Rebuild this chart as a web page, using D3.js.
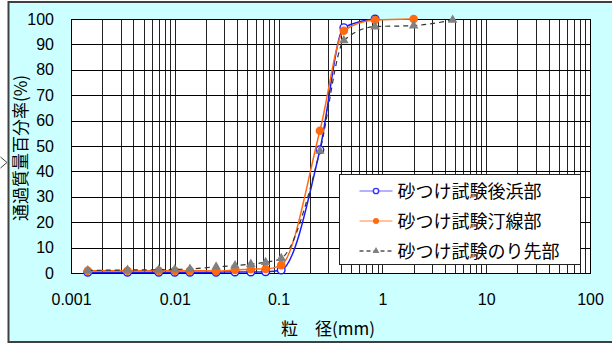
<!DOCTYPE html>
<html>
<head>
<meta charset="utf-8">
<script src="https://cdn.jsdelivr.net/npm/d3@7"></script>
<style>
  body { margin: 0; background: #fff; }
  svg text { font-family: "Liberation Sans", Arial, sans-serif; }
  .cjk { font-family: "Noto Sans CJK JP", "Noto Sans CJK SC", sans-serif; }
</style>
</head>
<body>
<div id="chart"></div>
<script>
// particle size (mm) and percent passing for each sample
var sizesBack = [0.00145, 0.0035, 0.007, 0.01, 0.014, 0.025, 0.038, 0.054, 0.075, 0.106, 0.25, 0.425, 0.85];
var passBack  = [0.3, 0.3, 0.3, 0.3, 0.3, 0.3, 0.4, 0.4, 0.5, 1.2, 48.5, 96.6, 100];

var sizesShore = [0.00145, 0.0035, 0.007, 0.01, 0.014, 0.025, 0.038, 0.054, 0.075, 0.106, 0.25, 0.425, 0.85, 2.0];
var passShore  = [0.9, 0.9, 0.9, 0.9, 0.9, 0.8, 1.2, 1.5, 1.6, 3.1, 56, 95.4, 99.6, 100];

var sizesToe = [0.00145, 0.0035, 0.007, 0.01, 0.014, 0.025, 0.038, 0.054, 0.075, 0.106, 0.25, 0.425, 0.85, 2.0, 4.75];
var passToe  = [1.0, 1.2, 1.3, 1.4, 1.6, 2.4, 2.9, 3.5, 4.2, 5.8, 48, 91.5, 97, 97.4, 99.6];

var seriesNames = ["砂つけ試験後浜部", "砂つけ試験汀線部", "砂つけ試験のり先部"];
var xTickValues = [0.001, 0.01, 0.1, 1, 10, 100];
var xTickLabels = ["0.001", "0.01", "0.1", "1", "10", "100"];
var yTickValues = [0, 10, 20, 30, 40, 50, 60, 70, 80, 90, 100];

var W = 612, H = 344;
var margin = {top: 19, right: 22, bottom: 71, left: 71};

var svg = d3.select("#chart").append("svg")
    .attr("width", W)
    .attr("height", H);

// outer frame
svg.append("rect")
    .attr("x", 8.5).attr("y", 2)
    .attr("width", W + 10).attr("height", 340)
    .attr("fill", "#ccffff")
    .attr("stroke", "#404040")
    .attr("stroke-width", 2);

// little selection arrow on the left edge
svg.append("path")
    .attr("d", "M0.5,157 L7,162.5 L0.5,168")
    .attr("fill", "none")
    .attr("stroke", "#404040")
    .attr("stroke-width", 1);

var x = d3.scaleLog().domain([0.001, 100]).range([margin.left, W - margin.right]);
var y = d3.scaleLinear().domain([0, 100]).range([H - margin.bottom, margin.top]);

// plot area
svg.append("rect")
    .attr("x", x(0.001)).attr("y", y(100))
    .attr("width", x(100) - x(0.001)).attr("height", y(0) - y(100))
    .attr("fill", "#fff");

var grid = svg.append("g").attr("shape-rendering", "crispEdges");

grid.selectAll("line.v")
    .data(x.ticks())
    .enter().append("line")
    .attr("class", "v")
    .attr("x1", function(d) { return Math.round(x(d)) + 0.5; })
    .attr("x2", function(d) { return Math.round(x(d)) + 0.5; })
    .attr("y1", y(100)).attr("y2", y(0))
    .attr("stroke", "#222")
    .attr("stroke-width", 1);

grid.selectAll("line.h")
    .data(yTickValues)
    .enter().append("line")
    .attr("class", "h")
    .attr("x1", x(0.001)).attr("x2", x(100))
    .attr("y1", function(d) { return Math.round(y(d)) + 0.5; })
    .attr("y2", function(d) { return Math.round(y(d)) + 0.5; })
    .attr("stroke", "#000")
    .attr("stroke-width", 1);

svg.append("rect")
    .attr("x", x(0.001) + 0.5).attr("y", y(100) + 0.5)
    .attr("width", x(100) - x(0.001)).attr("height", y(0) - y(100))
    .attr("fill", "none")
    .attr("stroke", "#000")
    .attr("shape-rendering", "crispEdges");

// axes (labels only)
var xAxis = svg.append("g")
    .attr("transform", "translate(0," + (y(0) + 18) + ")")
    .call(d3.axisBottom(x)
        .tickValues(xTickValues)
        .tickSize(0)
        .tickFormat(function(d, i) { return xTickLabels[i]; }));
xAxis.select(".domain").remove();
xAxis.selectAll("text")
    .attr("font-size", 16)
    .attr("fill", "#000")
    .attr("font-family", "'Liberation Sans', Arial, sans-serif");

var yAxis = svg.append("g")
    .attr("transform", "translate(" + (x(0.001) - 14) + ",0)")
    .call(d3.axisLeft(y).tickValues(yTickValues).tickSize(0));
yAxis.select(".domain").remove();
yAxis.selectAll("text")
    .attr("font-size", 16)
    .attr("fill", "#000")
    .attr("font-family", "'Liberation Sans', Arial, sans-serif");

// axis titles
svg.append("text")
    .attr("class", "cjk")
    .attr("transform", "translate(27,148) rotate(-90)")
    .attr("text-anchor", "middle")
    .attr("font-size", 17)
    .attr("fill", "#000")
    .text("通過質量百分率(%)");

svg.append("text")
    .attr("class", "cjk")
    .attr("x", 328).attr("y", 335)
    .attr("text-anchor", "middle")
    .attr("font-size", 17)
    .attr("fill", "#000")
    .text("粒　径(mm)");

// series
var series = [
    {sizes: sizesBack, pass: passBack, color: "#1a1aff", dash: null, marker: "circle"},
    {sizes: sizesShore, pass: passShore, color: "#ff6a10", dash: null, marker: "dot"},
    {sizes: sizesToe, pass: passToe, color: "#333", dash: "5,4", marker: "tri"}
];

var line = d3.line()
    .x(function(d) { return x(d[0]); })
    .y(function(d) { return y(d[1]); })
    .curve(d3.curveMonotoneX);

function drawMarker(g, s, px, py, scale) {
    if (s.marker === "circle") {
        g.append("circle").attr("cx", px).attr("cy", py).attr("r", 3.8 * scale)
            .attr("fill", "#fff").attr("stroke", s.color).attr("stroke-width", 1.4);
    } else if (s.marker === "dot") {
        g.append("circle").attr("cx", px).attr("cy", py).attr("r", 4.3 * scale)
            .attr("fill", "#ff6a10");
    } else {
        g.append("path")
            .attr("d", d3.symbol().type(d3.symbolTriangle).size(40 * scale * scale)())
            .attr("transform", "translate(" + px + "," + py + ")")
            .attr("fill", "#808080");
    }
}

series.forEach(function(s) {
    var pts = s.sizes.map(function(d, i) { return [d, s.pass[i]]; });
    var g = svg.append("g");
    g.append("path")
        .datum(pts)
        .attr("d", line)
        .attr("fill", "none")
        .attr("stroke", s.color)
        .attr("stroke-width", s.dash ? 1.2 : 1.5)
        .attr("stroke-dasharray", s.dash);
    pts.forEach(function(p) { drawMarker(g, s, x(p[0]), y(p[1]), 1); });
});

// legend
var lg = svg.append("g").attr("transform", "translate(339.5,174.5)");
lg.append("rect")
    .attr("width", 241).attr("height", 90)
    .attr("fill", "#fff")
    .attr("stroke", "#222")
    .attr("stroke-width", 1);

var legendSeries = [
    {color: "#6666ff", dash: null, marker: "circle"},
    {color: "#ff8a40", dash: null, marker: "dot"},
    {color: "#000", dash: "4,3", marker: "tri"}
];

legendSeries.forEach(function(s, i) {
    var cy = 16.5 + i * 30;
    lg.append("line")
        .attr("x1", 20).attr("x2", 53)
        .attr("y1", cy).attr("y2", cy)
        .attr("stroke", s.color)
        .attr("stroke-width", 1.2)
        .attr("stroke-dasharray", s.dash);
    var m = {marker: s.marker, color: i === 0 ? "#3333ff" : s.color};
    drawMarker(lg, m, 36.5, cy, 0.7);
    lg.append("text")
        .attr("class", "cjk")
        .attr("x", 58).attr("y", cy + 6.5)
        .attr("font-size", 18)
        .attr("fill", "#000")
        .text(seriesNames[i]);
});
</script>
</body>
</html>
